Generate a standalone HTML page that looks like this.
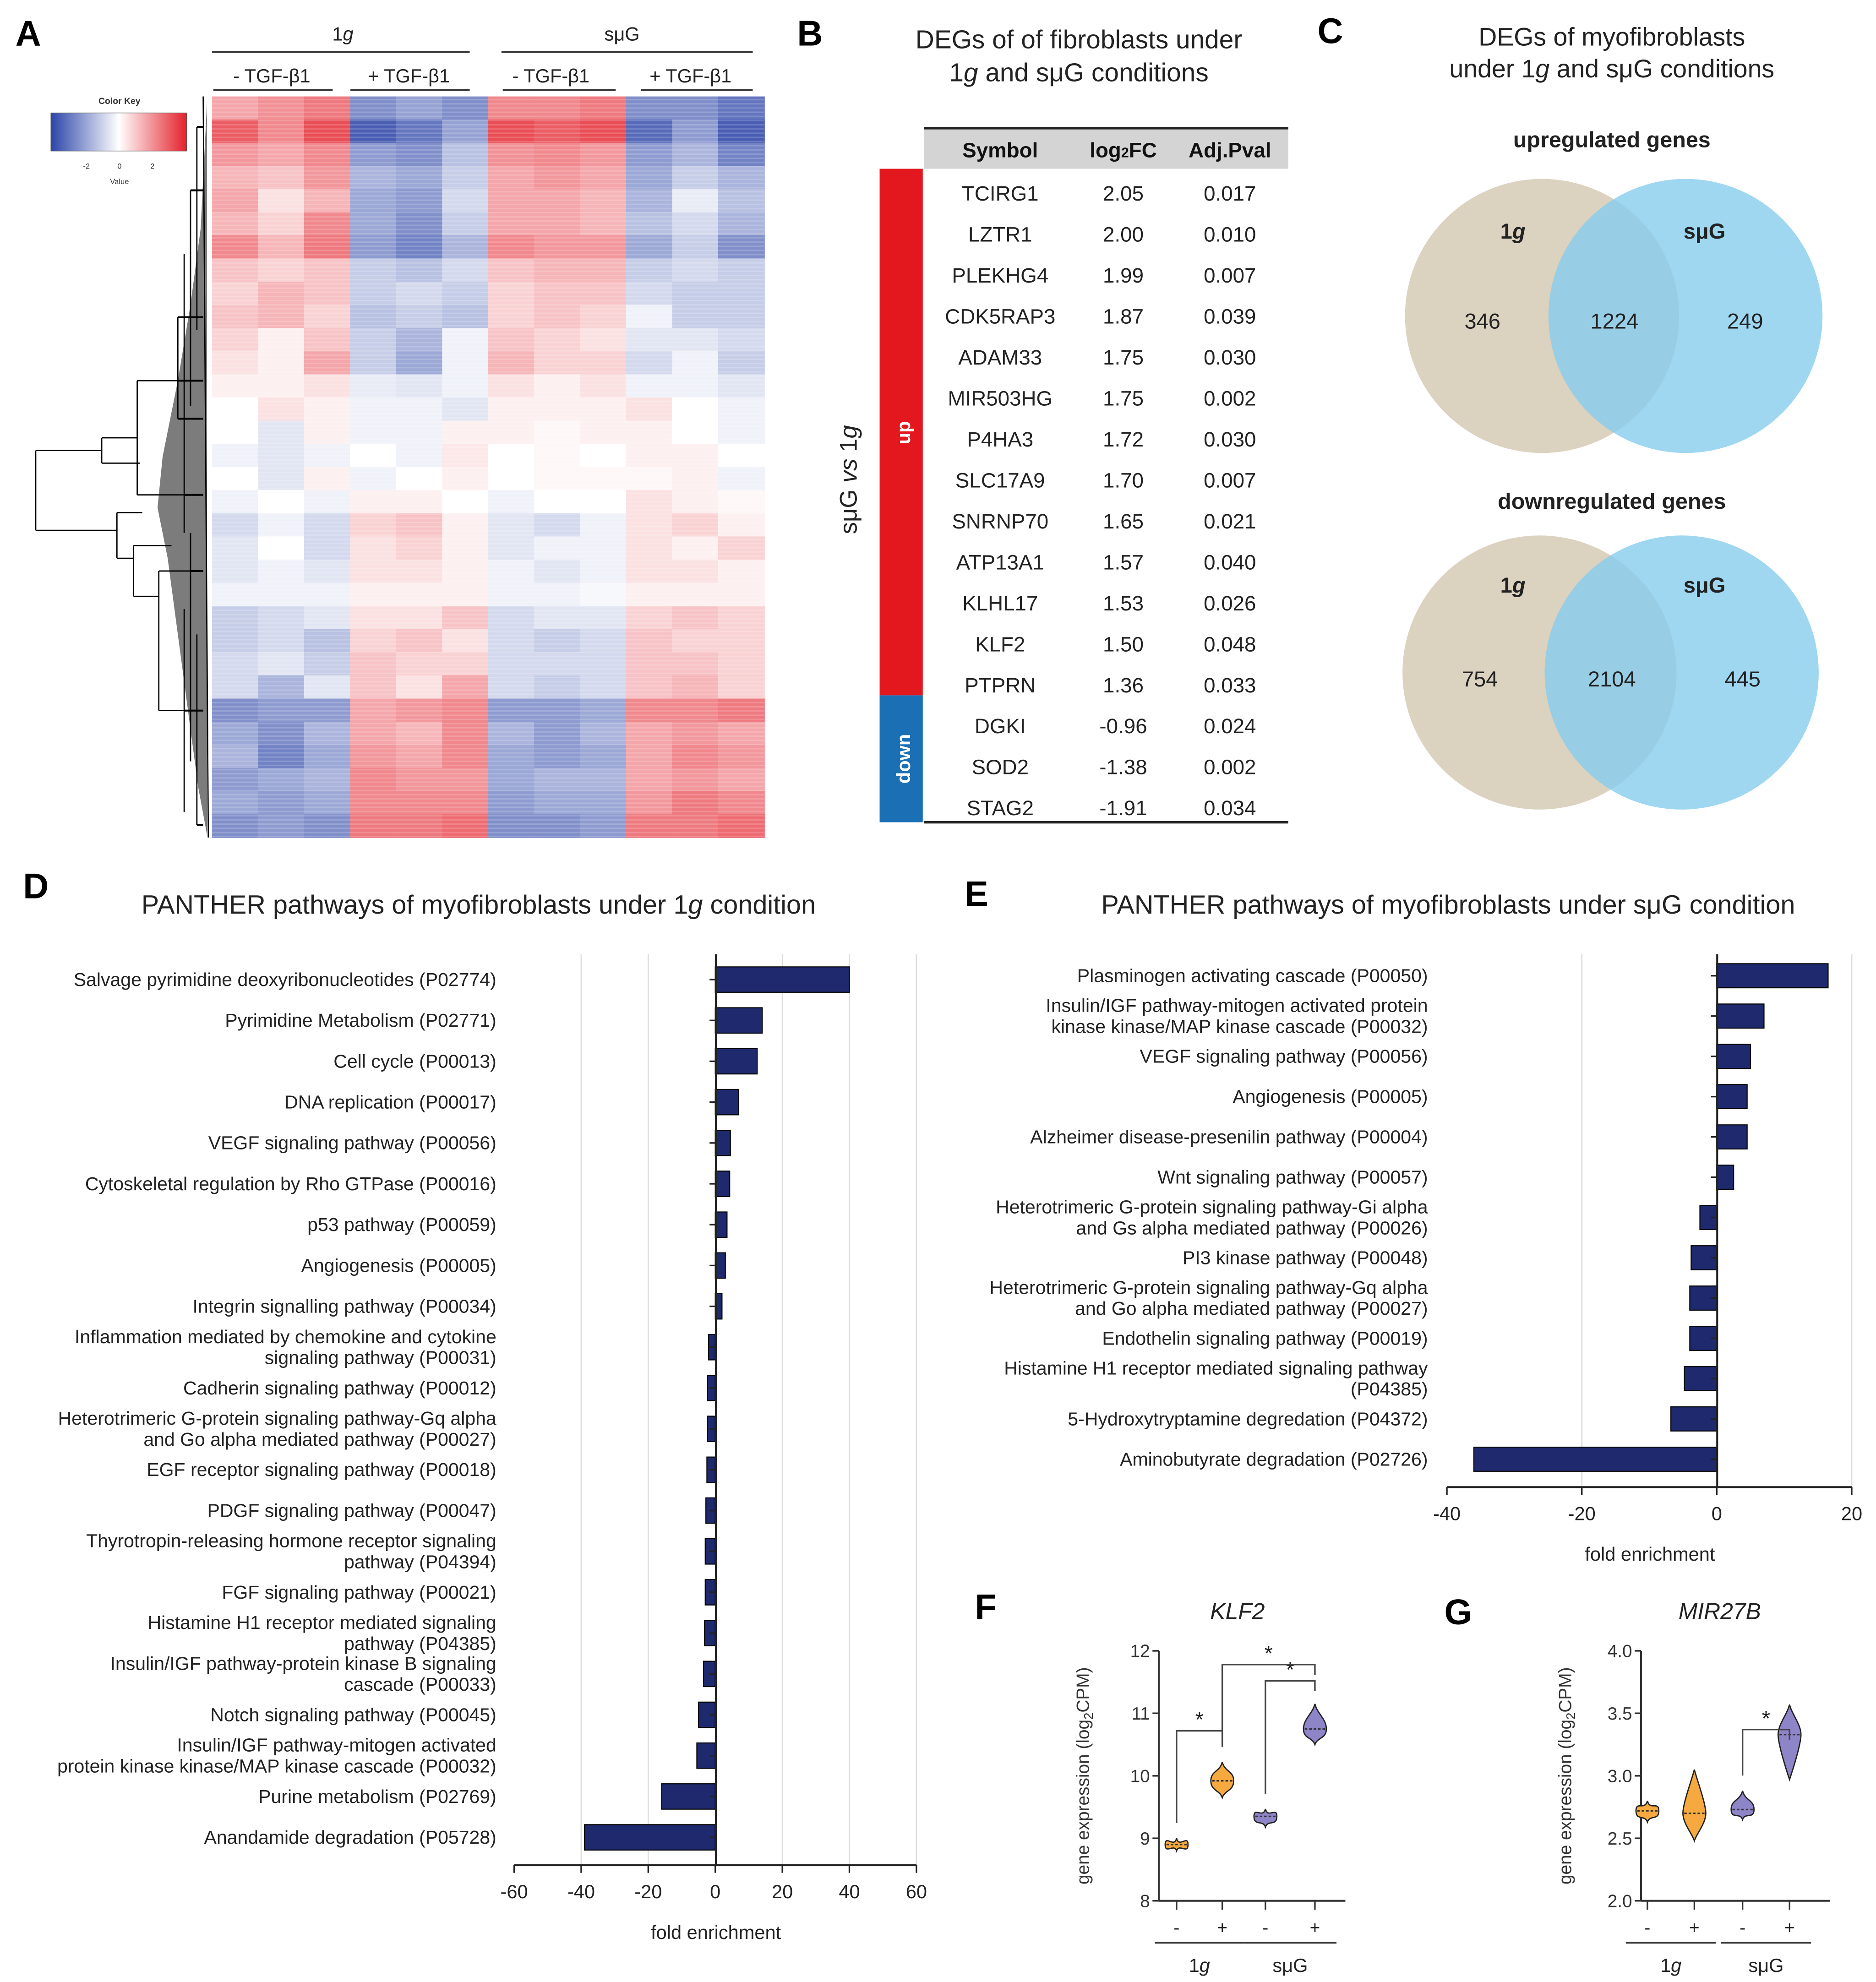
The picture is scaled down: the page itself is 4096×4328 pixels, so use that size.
<!DOCTYPE html>
<html><head><meta charset="utf-8">
<style>
html,body{margin:0;padding:0;background:#fff;}
svg{display:block;font-family:"Liberation Sans",sans-serif;}
</style></head>
<body>
<svg id="fig" width="4096" height="4328" viewBox="0 0 1478 1562" xmlns="http://www.w3.org/2000/svg">
<rect width="1478" height="1562" fill="#fff"/>
<g font-weight="bold" font-size="28" fill="#000">
<text x="12" y="36">A</text>
<text x="628" y="36">B</text>
<text x="1038" y="34">C</text>
<text x="18" y="708">D</text>
<text x="760" y="714">E</text>
<text x="768" y="1276">F</text>
<text x="1138" y="1280">G</text>
</g>
<g font-size="15" fill="#222" text-anchor="middle">
<text x="270" y="32">1<tspan font-style="italic">g</tspan></text>
<line x1="167" y1="41" x2="370" y2="41" stroke="#333" stroke-width="1.3"/>
<text x="490" y="32">sμG</text>
<line x1="395" y1="41" x2="593" y2="41" stroke="#333" stroke-width="1.3"/>
<text x="214" y="65">- TGF-β1</text>
<text x="322" y="65">+ TGF-β1</text>
<text x="434" y="65">- TGF-β1</text>
<text x="544" y="65">+ TGF-β1</text>
<line x1="168" y1="71" x2="262" y2="71" stroke="#333" stroke-width="1.3"/>
<line x1="276" y1="71" x2="370" y2="71" stroke="#333" stroke-width="1.3"/>
<line x1="396" y1="71" x2="485" y2="71" stroke="#333" stroke-width="1.3"/>
<line x1="505" y1="71" x2="593" y2="71" stroke="#333" stroke-width="1.3"/>
</g>
<defs><linearGradient id="ck" x1="0" x2="1"><stop offset="0" stop-color="#2c45a8"/><stop offset="0.5" stop-color="#ffffff"/><stop offset="1" stop-color="#e4212b"/></linearGradient></defs>
<g>
<text x="94" y="82" font-size="7" font-weight="bold" text-anchor="middle" fill="#333">Color Key</text>
<rect x="40" y="89" width="107" height="30" fill="url(#ck)" stroke="#555" stroke-width="0.5"/>
<g font-size="6" fill="#333" text-anchor="middle"><text x="68" y="133">-2</text><text x="94" y="133">0</text><text x="120" y="133">2</text><text x="94" y="145">Value</text></g>
</g>
<g id="heat"></g>
<g id="dendro" stroke="#000" stroke-width="1" fill="none">
<polygon points="163,80 158,180 150,240 140,300 128,360 124,400 132,440 140,500 148,560 156,620 163,658" fill="#111" fill-opacity="0.55" stroke="none"/>
<path d="M160,76 L164,660"/>
<path d="M28,355 L28,418 M28,355 L80,355 M28,418 L92,418 M80,345 L80,365 M80,345 L108,345 M80,365 L110,365 M92,404 L92,440 M92,404 L112,404 M92,440 L105,440 M105,430 L105,470 M105,430 L135,430 M105,470 L125,470"/>
<path d="M108,300 L108,390 M108,300 L140,300 M108,390 L145,390 M125,450 L125,560 M125,450 L150,450 M125,560 L145,560 M140,250 L140,330 M145,200 L145,420 M145,480 L145,640 M150,150 L150,320 M150,420 L150,600 M155,100 L155,260 M155,500 L155,650"/>
<path d="M140,300 L160,300 M145,390 L160,390 M150,450 L160,450 M145,560 L160,560 M140,250 L160,250 M140,330 L160,330 M150,150 L160,150 M155,100 L160,100 M155,650 L160,650" stroke-width="1.5"/>
</g>
<g>
<text x="850" y="38" font-size="20.5" text-anchor="middle" fill="#222">DEGs of of fibroblasts under</text>
<text x="850" y="64" font-size="20.5" text-anchor="middle" fill="#222">1<tspan font-style="italic">g</tspan> and sμG conditions</text>
<rect x="728" y="101" width="287" height="32" fill="#d4d4d4"/>
<line x1="728" y1="101" x2="1015" y2="101" stroke="#222" stroke-width="2"/>
<line x1="728" y1="648" x2="1015" y2="648" stroke="#222" stroke-width="2"/>
<g font-size="16.5" font-weight="bold" text-anchor="middle" fill="#111">
<text x="788" y="124">Symbol</text><text x="885" y="124">log<tspan font-size="11">2</tspan>FC</text><text x="969" y="124">Adj.Pval</text></g>
<rect x="693" y="133" width="34" height="415" fill="#e3181f"/>
<rect x="693" y="548" width="34" height="100" fill="#1b6fb5"/>
<text transform="translate(717,341) rotate(-90)" font-size="15" font-weight="bold" fill="#fff" text-anchor="middle">up</text>
<text transform="translate(717,598) rotate(-90)" font-size="15" font-weight="bold" fill="#fff" text-anchor="middle">down</text>
<text transform="translate(675,378) rotate(-90)" font-size="19" fill="#222" text-anchor="middle">sμG <tspan font-style="italic">vs</tspan> 1<tspan font-style="italic">g</tspan></text>
<g id="tbl" font-size="16.5" text-anchor="middle" fill="#222"></g>
</g>
<g>
<text x="1270" y="36" font-size="20" text-anchor="middle" fill="#222">DEGs of myofibroblasts</text>
<text x="1270" y="61" font-size="20" text-anchor="middle" fill="#222">under 1<tspan font-style="italic">g</tspan> and sμG conditions</text>
<text x="1270" y="116" font-size="17.5" font-weight="bold" text-anchor="middle" fill="#222">upregulated genes</text>
<text x="1270" y="401" font-size="17.5" font-weight="bold" text-anchor="middle" fill="#222">downregulated genes</text>
<circle cx="1215" cy="249" r="108" fill="#dcd2c0"/>
<circle cx="1328" cy="249" r="108" fill="#87cdee" fill-opacity="0.8"/>
<circle cx="1213" cy="530" r="108" fill="#dcd2c0"/>
<circle cx="1325" cy="530" r="108" fill="#87cdee" fill-opacity="0.8"/>
<g font-size="17" fill="#222" text-anchor="middle">
<text x="1192" y="188" font-weight="bold">1<tspan font-style="italic">g</tspan></text><text x="1343" y="188" font-weight="bold">sμG</text>
<text x="1168" y="259">346</text><text x="1272" y="259">1224</text><text x="1375" y="259">249</text>
<text x="1192" y="467" font-weight="bold">1<tspan font-style="italic">g</tspan></text><text x="1343" y="467" font-weight="bold">sμG</text>
<text x="1166" y="541">754</text><text x="1270" y="541">2104</text><text x="1373" y="541">445</text>
</g></g>
<text x="377" y="720" font-size="20.8" text-anchor="middle" fill="#222">PANTHER pathways of myofibroblasts under 1<tspan font-style="italic">g</tspan> condition</text>
<text x="1141" y="720" font-size="20.8" text-anchor="middle" fill="#222">PANTHER pathways of myofibroblasts under sμG condition</text>
<g id="chartD"></g>
<g id="chartE"></g>
<text x="975" y="1276" font-size="18" font-style="italic" text-anchor="middle" fill="#222">KLF2</text>
<text x="1355" y="1276" font-size="18" font-style="italic" text-anchor="middle" fill="#222">MIR27B</text>
<g id="chartF"></g>
<g id="chartG"></g>
</svg>
<script>
const heatRows = [
[1.2,1.5,1.8,-1.8,-1.5,-1.8,1.6,1.6,1.8,-1.8,-1.8,-2.2],
[2.2,1.6,2.4,-2.6,-2.2,-1.5,2.4,2.2,2.4,-2.4,-1.6,-2.6],
[1.4,1.2,1.6,-1.6,-1.8,-1.0,1.5,1.6,1.4,-1.6,-1.2,-2.0],
[1.0,0.8,1.4,-1.2,-1.4,-0.8,1.2,1.4,1.2,-1.4,-0.8,-1.2],
[1.2,0.4,1.0,-1.4,-1.6,-0.6,1.2,1.2,1.0,-1.2,-0.3,-1.0],
[1.0,0.6,1.6,-1.4,-1.8,-0.8,1.2,1.2,1.0,-1.0,-0.6,-1.2],
[1.6,1.0,1.8,-1.6,-2.0,-1.2,1.6,1.4,1.4,-1.4,-0.8,-1.8],
[0.8,0.6,0.8,-0.8,-1.0,-0.6,0.8,1.0,1.0,-0.8,-0.6,-0.8],
[0.6,1.0,0.8,-0.8,-0.6,-0.8,0.6,0.8,0.8,-0.6,-0.8,-0.8],
[0.8,1.0,0.6,-1.0,-0.8,-1.0,0.6,0.8,0.6,-0.2,-0.8,-0.8],
[0.6,0.2,0.8,-0.8,-1.2,-0.2,0.8,0.6,0.4,-0.4,-0.4,-0.6],
[0.4,0.2,1.2,-0.8,-1.4,-0.2,1.0,0.6,0.6,-0.6,-0.2,-0.8],
[0.2,0.2,0.4,-0.3,-0.4,-0.2,0.4,0.2,0.4,-0.2,-0.2,-0.4],
[0.0,0.4,0.2,-0.2,-0.2,-0.4,0.2,0.2,0.2,0.4,0.0,-0.2],
[0.0,-0.4,0.2,-0.2,-0.2,0.2,0.2,0.1,0.2,0.2,0.0,-0.2],
[-0.2,-0.4,-0.2,0.0,-0.2,0.3,0.0,0.1,0.0,0.2,0.2,0.0],
[0.0,-0.4,0.2,-0.2,0.0,0.2,0.0,0.1,0.1,0.1,0.2,-0.2],
[-0.2,0.0,-0.2,0.2,0.2,0.0,-0.2,0.0,0.0,0.4,0.2,0.1],
[-0.6,-0.2,-0.6,0.6,0.8,0.2,-0.4,-0.6,-0.2,0.4,0.6,0.2],
[-0.4,0.0,-0.6,0.4,0.6,0.2,-0.4,-0.2,-0.2,0.4,0.2,0.6],
[-0.4,-0.2,-0.4,0.4,0.4,0.2,-0.2,-0.4,-0.2,0.4,0.4,0.2],
[-0.2,-0.2,-0.2,0.2,0.2,0.2,-0.2,-0.2,-0.1,0.2,0.2,0.2],
[-0.8,-0.6,-0.4,0.4,0.4,0.8,-0.6,-0.4,-0.4,0.6,0.8,0.6],
[-0.8,-0.6,-1.0,0.6,0.8,0.4,-0.6,-0.8,-0.6,0.8,0.6,0.6],
[-0.6,-0.4,-0.8,0.8,0.6,0.6,-0.6,-0.6,-0.6,0.8,0.8,0.6],
[-0.6,-1.2,-0.4,0.8,0.4,1.2,-0.6,-0.8,-0.6,0.8,1.0,0.6],
[-1.8,-1.6,-1.6,1.2,1.4,1.6,-1.6,-1.6,-1.4,1.6,1.6,1.8],
[-1.4,-1.8,-1.2,1.2,1.0,1.6,-1.2,-1.6,-1.2,1.2,1.4,1.2],
[-1.2,-2.0,-1.4,1.4,1.2,1.6,-1.4,-1.6,-1.4,1.2,1.6,1.4],
[-1.6,-1.4,-1.2,1.6,1.4,1.4,-1.4,-1.2,-1.2,1.2,1.4,1.2],
[-1.4,-1.6,-1.4,1.6,1.6,1.6,-1.6,-1.4,-1.4,1.4,1.8,1.6],
[-1.8,-1.6,-1.8,1.8,1.8,2.0,-1.8,-1.8,-1.6,1.8,1.8,2.0]
];
const tblSymbols = ["TCIRG1","LZTR1","PLEKHG4","CDK5RAP3","ADAM33","MIR503HG","P4HA3","SLC17A9","SNRNP70","ATP13A1","KLHL17","KLF2","PTPRN","DGKI","SOD2","STAG2"];
const tblFC = ["2.05","2.00","1.99","1.87","1.75","1.75","1.72","1.70","1.65","1.57","1.53","1.50","1.36","-0.96","-1.38","-1.91"];
const tblP = ["0.017","0.010","0.007","0.039","0.030","0.002","0.030","0.007","0.021","0.040","0.026","0.048","0.033","0.024","0.002","0.034"];
const dLabels = [["Salvage pyrimidine deoxyribonucleotides (P02774)"],["Pyrimidine Metabolism (P02771)"],["Cell cycle (P00013)"],["DNA replication (P00017)"],["VEGF signaling pathway (P00056)"],["Cytoskeletal regulation by Rho GTPase (P00016)"],["p53 pathway (P00059)"],["Angiogenesis (P00005)"],["Integrin signalling pathway (P00034)"],["Inflammation mediated by chemokine and cytokine","signaling pathway (P00031)"],["Cadherin signaling pathway (P00012)"],["Heterotrimeric G-protein signaling pathway-Gq alpha","and Go alpha mediated pathway (P00027)"],["EGF receptor signaling pathway (P00018)"],["PDGF signaling pathway (P00047)"],["Thyrotropin-releasing hormone receptor signaling","pathway (P04394)"],["FGF signaling pathway (P00021)"],["Histamine H1 receptor mediated signaling","pathway (P04385)"],["Insulin/IGF pathway-protein kinase B signaling","cascade (P00033)"],["Notch signaling pathway (P00045)"],["Insulin/IGF pathway-mitogen activated","protein kinase kinase/MAP kinase cascade (P00032)"],["Purine metabolism (P02769)"],["Anandamide degradation (P05728)"]];
const dValues = [40,14,12.5,7,4.5,4.3,3.5,3,2,-2,-2.3,-2.3,-2.5,-2.8,-3,-3,-3.2,-3.5,-5,-5.5,-16,-39];
const dTicks = [-60,-40,-20,0,20,40,60];
const eLabels = [["Plasminogen activating cascade (P00050)"],["Insulin/IGF pathway-mitogen activated protein","kinase kinase/MAP kinase cascade (P00032)"],["VEGF signaling pathway (P00056)"],["Angiogenesis (P00005)"],["Alzheimer disease-presenilin pathway (P00004)"],["Wnt signaling pathway (P00057)"],["Heterotrimeric G-protein signaling pathway-Gi alpha","and Gs alpha mediated pathway (P00026)"],["PI3 kinase pathway (P00048)"],["Heterotrimeric G-protein signaling pathway-Gq alpha","and Go alpha mediated pathway (P00027)"],["Endothelin signaling pathway (P00019)"],["Histamine H1 receptor mediated signaling pathway","(P04385)"],["5-Hydroxytryptamine degredation (P04372)"],["Aminobutyrate degradation (P02726)"]];
const eValues = [16.5,7,5,4.5,4.5,2.5,-2.5,-3.8,-4,-4,-4.8,-6.8,-36];
const eTicks = [-40,-20,0,20];
const fMedians = [8.9,9.92,9.35,10.75];
const fMins = [8.8,9.65,9.18,10.5];
const fMaxs = [9.0,10.22,9.47,11.15];
const fTicks = [8,9,10,11,12];
const gMedians = [2.72,2.7,2.73,3.33];
const gMins = [2.63,2.48,2.65,2.97];
const gMaxs = [2.8,3.05,2.88,3.57];
const gTicks = [2.0,2.5,3.0,3.5,4.0];

const NS="http://www.w3.org/2000/svg";
function mk(tag,attrs,parent){const e=document.createElementNS(NS,tag);for(const k in attrs)e.setAttribute(k,attrs[k]);parent.appendChild(e);return e;}
function col(v){const t=Math.max(-1,Math.min(1,v/3));let r,g,b;
 if(t<0){const a=-t;r=255+(44-255)*a;g=255+(69-255)*a;b=255+(168-255)*a;}else{r=255+(228-255)*t;g=255+(33-255)*t;b=255+(43-255)*t;}
 return `rgb(${r|0},${g|0},${b|0})`;}
(function(){const g=document.getElementById('heat');const x0=167,x1=602,y0=76,y1=660;
 const cw=(x1-x0)/12,rh=(y1-y0)/heatRows.length;
 heatRows.forEach((row,i)=>row.forEach((v,j)=>{
  const r=mk('rect',{x:x0+j*cw,y:y0+i*rh,width:cw+0.5,height:rh+0.5,fill:col(v)},g);
  
  
 }));
 for(let y=y0+2;y<y1;y+=3.3){const s=mk('rect',{x:x0,y:y,width:x1-x0,height:1.1,fill:'#fff','fill-opacity':0.18},g);
  
  }
})();
(function(){const g=document.getElementById('tbl');
 tblSymbols.forEach((s,i)=>{const y=158+i*32.3;
  const a=mk('text',{x:788,y:y},g);a.textContent=s;
  
  
  const b=mk('text',{x:885,y:y},g);b.textContent=tblFC[i];
  
  
  const c=mk('text',{x:969,y:y},g);c.textContent=tblP[i];
  
  
 });})();
function barChart(id,labels,values,ticks,cfg){
 const g=document.getElementById(id);
 const sx=v=>cfg.x0+(v-ticks[0])*(cfg.x1-cfg.x0)/(ticks[ticks.length-1]-ticks[0]);
 ticks.forEach(t=>{if(t!==0&&t!==ticks[0]){const l=mk('line',{x1:sx(t),x2:sx(t),y1:cfg.yTop,y2:cfg.yAxis,stroke:'#ddd','stroke-width':1},g);
  
  }});
 values.forEach((v,i)=>{const y=cfg.r0+i*cfg.step;
  const r=mk('rect',{x:Math.min(sx(0),sx(v)),y:y-cfg.bh/2,width:Math.abs(sx(v)-sx(0)),height:cfg.bh,fill:'#1f2a6e',stroke:'#000','stroke-width':0.8},g);
  
  
  const lines=labels[i];
  lines.forEach((s,k)=>{const t=mk('text',{x:cfg.lx,y:y+5+(k-(lines.length-1)/2)*16.5,'text-anchor':'end','font-size':14.8,fill:'#222'},g);t.textContent=s;
   
   });
  const tk=mk('line',{x1:cfg.axX-5,x2:cfg.axX,y1:y,y2:y,stroke:'#222','stroke-width':1.2},g);
  
  
 });
 const ya=mk('line',{x1:cfg.axX,x2:cfg.axX,y1:cfg.yTop,y2:cfg.yAxis,stroke:'#222','stroke-width':1.5},g);
 
 
 const xa=mk('line',{x1:cfg.x0,x2:cfg.x1,y1:cfg.yAxis,y2:cfg.yAxis,stroke:'#222','stroke-width':1.5},g);
 
 
 ticks.forEach(t=>{const l=mk('line',{x1:sx(t),x2:sx(t),y1:cfg.yAxis,y2:cfg.yAxis+6,stroke:'#222','stroke-width':1.2},g);
  
  
  const tx=mk('text',{x:sx(t),y:cfg.yAxis+26,'text-anchor':'middle','font-size':15,fill:'#222'},g);tx.textContent=t;
  
  });
 const xt=mk('text',{x:cfg.titleX,y:cfg.yAxis+58,'text-anchor':'middle','font-size':15,fill:'#222'},g);xt.textContent='fold enrichment';
 
 
}
barChart('chartD',dLabels,dValues,dTicks,{x0:405,x1:722,yTop:752,yAxis:1470,r0:772,step:32.19,bh:20,lx:391,axX:564,titleX:564});
barChart('chartE',eLabels,eValues,eTicks,{x0:1140,x1:1459,yTop:752,yAxis:1172,r0:769,step:31.75,bh:19,lx:1125,axX:1353,titleX:1300});
function violin(id,meds,mins,maxs,ticks,cfg){
 const g=document.getElementById(id);
 const sy=v=>cfg.yb-(v-ticks[0])*(cfg.yb-cfg.yt)/(ticks[ticks.length-1]-ticks[0]);
 const ya=mk('line',{x1:cfg.ax,x2:cfg.ax,y1:cfg.yt,y2:cfg.yb,stroke:'#333','stroke-width':1.5},g);
 
 
 const xa=mk('line',{x1:cfg.ax,x2:cfg.xe,y1:cfg.yb,y2:cfg.yb,stroke:'#333','stroke-width':1.5},g);
 
 
 ticks.forEach(t=>{const l=mk('line',{x1:cfg.ax-5,x2:cfg.ax,y1:sy(t),y2:sy(t),stroke:'#333','stroke-width':1.3},g);
  
  
  const tx=mk('text',{x:cfg.ax-7,y:sy(t)+5,'text-anchor':'end','font-size':14,fill:'#333'},g);tx.textContent=cfg.fmt(t);
  
  });
 const yt=mk('text',{transform:`translate(${cfg.ax-55},${(cfg.yt+cfg.yb)/2}) rotate(-90)`,'text-anchor':'middle','font-size':14,fill:'#333'},g);
 yt.innerHTML='gene expression (log<tspan font-size="10" dy="3">2</tspan><tspan dy="-3">CPM)</tspan>';
 
 
 const colors=['#f5a93e','#f5a93e','#8e84c8','#8e84c8'];
 meds.forEach((m,i)=>{const x=cfg.xs[i];const top=sy(maxs[i]),bot=sy(mins[i]),ym=sy(m);const w=9;
  const p=mk('path',{d:`M${x},${top} C${x+2},${top+8} ${x+w},${ym-8} ${x+w},${ym} C${x+w},${ym+8} ${x+2},${bot-6} ${x},${bot} C${x-2},${bot-6} ${x-w},${ym+8} ${x-w},${ym} C${x-w},${ym-8} ${x-2},${top+8} ${x},${top}Z`,fill:colors[i],stroke:'#222','stroke-width':1},g);
  
  
  const ml=mk('line',{x1:x-w+1,x2:x+w-1,y1:ym,y2:ym,stroke:'#333','stroke-width':1.2,'stroke-dasharray':'2,1.5'},g);
  
  
  const tk=mk('line',{x1:x,x2:x,y1:cfg.yb,y2:cfg.yb+7,stroke:'#333','stroke-width':1.2},g);
  
  
  const tl=mk('text',{x:x,y:cfg.yb+26,'text-anchor':'middle','font-size':14,fill:'#222'},g);tl.textContent=i%2?'+':'-';
  
  
 });
 [[0,1,'1g'],[2,3,'sμG']].forEach(([a,b,lab])=>{
  const l=mk('line',{x1:cfg.xs[a]-17,x2:cfg.xs[b]+17,y1:cfg.yb+33,y2:cfg.yb+33,stroke:'#333','stroke-width':1.5},g);
  
  
  const t=mk('text',{x:(cfg.xs[a]+cfg.xs[b])/2,y:cfg.yb+56,'text-anchor':'middle','font-size':15,fill:'#222'},g);
  t.innerHTML=lab==='1g'?'1<tspan font-style="italic">g</tspan>':lab;
  
  
 });
 cfg.sig.forEach(([a,b,yv])=>{const y=sy(yv);const xa2=cfg.xs[a],xb=cfg.xs[b];
  const p=mk('path',{d:`M${xa2},${sy(maxs[a])-12} L${xa2},${y} L${xb},${y} L${xb},${y+8}`,fill:'none',stroke:'#444','stroke-width':1.2},g);
  
  
  const t=mk('text',{x:(xa2+xb)/2,y:y-3,'text-anchor':'middle','font-size':17,fill:'#222'},g);t.textContent='*';
  
  });
}
violin('chartF',fMedians,fMins,fMaxs,fTicks,{ax:913,xe:1060,yt:1301,yb:1498,xs:[927,963,997,1036],fmt:t=>t,sig:[[0,1,10.72],[2,3,11.52],[1,3,11.78]]});
violin('chartG',gMedians,gMins,gMaxs,gTicks,{ax:1293,xe:1442,yt:1301,yb:1498,xs:[1298,1335,1373,1410],fmt:t=>t.toFixed(1),sig:[[2,3,3.37]]});
</script>
</body></html>
